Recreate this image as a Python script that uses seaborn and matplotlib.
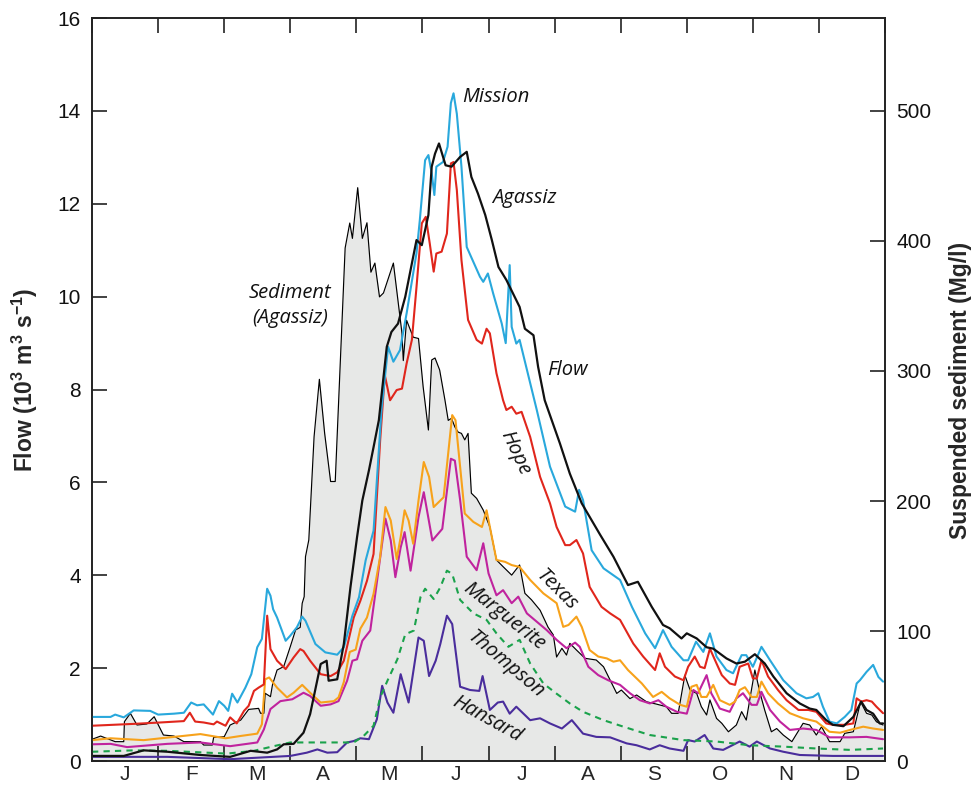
import numpy as np
import pandas as pd
import seaborn as sns
import matplotlib
matplotlib.use("Agg")
import matplotlib.pyplot as plt

# months: J..D, x in month units (0 = 1 Jan, 12 = 31 Dec)
month_labels = ["J", "F", "M", "A", "M", "J", "J", "A", "S", "O", "N", "D"]

# --- flow, 10^3 m3/s ---
mission_m = [0, 0.28, 0.35, 0.48, 0.63, 0.88, 1.0, 1.24, 1.39, 1.50, 1.59, 1.69, 1.83, 1.92, 2.0, 2.06, 2.12, 2.2,
             2.32, 2.41, 2.50, 2.57, 2.65, 2.70, 2.74, 2.80, 2.93, 3.0, 3.10, 3.18, 3.23, 3.38, 3.53, 3.71, 3.81,
             3.94, 4.04, 4.14, 4.26, 4.38, 4.48, 4.56, 4.66, 4.76, 4.91, 4.96, 5.04, 5.09, 5.14, 5.18, 5.21, 5.31,
             5.38, 5.43, 5.47, 5.52, 5.59, 5.67, 5.77, 5.87, 5.92, 5.99, 6.07, 6.20, 6.26, 6.32, 6.35, 6.42, 6.47,
             6.63, 6.73, 6.93, 7.16, 7.31, 7.37, 7.43, 7.56, 7.74, 7.99, 8.17, 8.37, 8.52, 8.64, 8.77, 8.95, 9.02,
             9.14, 9.25, 9.35, 9.45, 9.60, 9.70, 9.83, 9.90, 10.0, 10.13, 10.26, 10.46, 10.66, 10.81, 10.91, 10.99,
             11.06, 11.16, 11.27, 11.39, 11.49, 11.57, 11.62, 11.72, 11.82, 11.90, 11.97]
mission_q = [0.95, 0.95, 1.0, 0.94, 1.09, 1.08, 1.0, 1.02, 1.04, 1.26, 1.2, 1.22, 1.0, 1.29, 1.19, 1.08, 1.45, 1.26,
             1.58, 1.87, 2.45, 2.63, 3.71, 3.56, 3.27, 3.09, 2.59, 2.70, 2.88, 3.11, 3.02, 2.52, 2.34, 2.29, 2.45,
             3.13, 3.53, 4.32, 4.96, 7.56, 8.92, 8.60, 8.85, 9.64, 10.94, 11.65, 12.94, 13.05, 12.66, 12.19, 12.8,
             12.9, 13.23, 14.17, 14.38, 13.94, 12.8, 11.07, 10.75, 10.43, 10.32, 10.5, 10.07, 9.42, 9.0, 10.68,
             9.35, 8.99, 9.07, 8.14, 7.56, 6.34, 5.48, 5.37, 5.84, 5.62, 4.54, 4.15, 3.90, 3.32, 2.75, 2.43, 2.82,
             2.46, 2.17, 2.17, 2.57, 2.35, 2.75, 2.25, 1.96, 1.89, 2.28, 2.28, 2.03, 2.46, 2.17, 1.74, 1.46, 1.35,
             1.38, 1.46, 1.17, 0.85, 0.81, 0.95, 1.10, 1.67, 1.74, 1.92, 2.07, 1.81, 1.71]

agassiz_m = [0, 0.48, 0.78, 1.14, 1.64, 2.09, 2.40, 2.65, 2.80, 2.90, 3.05, 3.20, 3.30, 3.46, 3.55, 3.58, 3.71,
             3.81, 3.91, 4.01, 4.09, 4.19, 4.26, 4.34, 4.46, 4.53, 4.63, 4.74, 4.91, 4.99, 5.09, 5.14, 5.19, 5.25,
             5.35, 5.44, 5.57, 5.67, 5.74, 5.84, 5.95, 6.05, 6.15, 6.27, 6.37, 6.47, 6.55, 6.68, 6.75, 6.85, 7.08,
             7.23, 7.41, 7.69, 7.89, 8.11, 8.26, 8.47, 8.64, 8.74, 8.92, 9.0, 9.15, 9.30, 9.40, 9.60, 9.75, 9.88,
             10.03, 10.18, 10.31, 10.51, 10.71, 10.86, 10.96, 11.11, 11.21, 11.37, 11.52, 11.64, 11.72, 11.82,
             11.92, 11.97]
agassiz_q = [0.11, 0.11, 0.23, 0.2, 0.13, 0.09, 0.22, 0.18, 0.25, 0.36, 0.37, 0.61, 1.01, 2.09, 2.16, 1.73, 1.76,
             2.52, 3.74, 4.82, 5.61, 6.26, 6.76, 7.34, 8.92, 9.24, 9.42, 10.0, 11.22, 11.11, 11.76, 12.8, 13.08,
             13.30, 12.83, 12.8, 13.01, 13.12, 12.58, 12.22, 11.76, 11.22, 10.64, 10.36, 10.07, 9.78, 9.31, 9.17,
             8.49, 7.77, 6.84, 6.19, 5.55, 4.87, 4.40, 3.79, 3.86, 3.32, 2.93, 2.86, 2.64, 2.75, 2.64, 2.45, 2.42,
             2.21, 2.10, 2.14, 2.30, 2.10, 1.82, 1.46, 1.24, 1.13, 1.10, 0.88, 0.78, 0.75, 0.95, 1.28, 1.10, 1.02,
             0.81, 0.81]

hope_m = [0, 0.63, 1.03, 1.39, 1.48, 1.56, 1.69, 1.84, 1.89, 2.02, 2.09, 2.19, 2.30, 2.37, 2.45, 2.52, 2.60, 2.65,
          2.70, 2.80, 2.93, 3.05, 3.15, 3.20, 3.30, 3.46, 3.61, 3.71, 3.81, 3.96, 4.06, 4.16, 4.26, 4.36, 4.43,
          4.51, 4.61, 4.69, 4.76, 4.84, 4.91, 4.99, 5.05, 5.11, 5.17, 5.21, 5.29, 5.37, 5.43, 5.47, 5.52, 5.59,
          5.69, 5.82, 5.90, 5.97, 6.02, 6.12, 6.22, 6.27, 6.35, 6.42, 6.50, 6.63, 6.78, 6.93, 7.03, 7.16, 7.23,
          7.33, 7.43, 7.53, 7.71, 7.84, 7.99, 8.19, 8.34, 8.52, 8.59, 8.67, 8.82, 8.95, 9.02, 9.12, 9.20, 9.27,
          9.35, 9.45, 9.53, 9.65, 9.73, 9.80, 9.93, 10.0, 10.06, 10.13, 10.23, 10.38, 10.51, 10.69, 10.84, 10.96,
          11.11, 11.21, 11.39, 11.52, 11.57, 11.64, 11.72, 11.80, 11.87, 11.97]
hope_q = [0.76, 0.80, 0.83, 0.86, 1.04, 0.85, 0.83, 0.79, 0.85, 0.76, 0.94, 0.81, 1.08, 1.19, 1.51, 1.58, 1.65, 3.13,
          2.41, 2.16, 1.98, 2.23, 2.41, 2.37, 2.16, 1.87, 1.83, 1.91, 2.16, 3.09, 3.45, 3.88, 4.46, 6.91, 8.31,
          7.77, 7.99, 8.02, 8.56, 9.07, 10.21, 11.58, 11.72, 11.15, 10.54, 10.93, 10.97, 11.36, 12.87, 12.9, 12.3,
          10.79, 9.5, 9.07, 8.99, 9.31, 9.21, 8.35, 7.77, 7.56, 7.63, 7.48, 7.52, 6.98, 6.12, 5.55, 5.04, 4.65,
          4.65, 4.76, 4.47, 3.75, 3.32, 3.18, 3.04, 2.53, 2.25, 1.96, 2.32, 2.03, 1.82, 1.74, 2.03, 2.25, 2.03,
          2.00, 2.42, 2.10, 1.85, 1.67, 1.64, 2.03, 2.10, 1.78, 1.78, 2.17, 1.82, 1.53, 1.31, 1.10, 1.10, 1.06,
          0.81, 0.78, 0.78, 0.81, 1.35, 1.28, 1.31, 1.28, 1.17, 1.03]

texas_m = [0, 0.28, 0.78, 1.64, 2.02, 2.25, 2.50, 2.57, 2.62, 2.68, 2.80, 2.95, 3.05, 3.18, 3.30, 3.46, 3.66, 3.73,
           3.81, 3.90, 3.99, 4.06, 4.16, 4.26, 4.36, 4.44, 4.52, 4.61, 4.67, 4.73, 4.79, 4.86, 4.94, 5.02, 5.10,
           5.17, 5.32, 5.45, 5.50, 5.64, 5.77, 5.90, 5.97, 6.02, 6.12, 6.25, 6.35, 6.47, 6.63, 6.83, 7.03, 7.13,
           7.21, 7.33, 7.41, 7.53, 7.66, 7.79, 7.89, 7.99, 8.11, 8.32, 8.49, 8.62, 8.74, 8.90, 9.0, 9.07, 9.15,
           9.22, 9.30, 9.40, 9.50, 9.65, 9.73, 9.80, 9.88, 9.98, 10.06, 10.13, 10.23, 10.38, 10.56, 10.76, 10.96,
           11.16, 11.32, 11.47, 11.67, 11.82, 11.97]
texas_q = [0.45, 0.49, 0.45, 0.58, 0.49, 0.54, 0.59, 0.79, 1.76, 1.80, 1.58, 1.37, 1.47, 1.64, 1.47, 1.26, 1.29,
           1.37, 1.70, 2.35, 2.40, 2.85, 3.09, 3.60, 4.40, 5.47, 5.18, 4.35, 4.82, 5.40, 5.18, 4.68, 5.61, 6.44,
           6.12, 5.47, 5.68, 7.45, 7.34, 5.33, 5.15, 5.04, 5.40, 5.04, 4.33, 4.29, 4.22, 4.18, 3.90, 3.61, 3.40,
           2.89, 2.93, 3.11, 2.89, 2.39, 2.25, 2.21, 2.14, 2.17, 1.96, 1.67, 1.38, 1.49, 1.35, 1.21, 1.17, 1.60,
           1.64, 1.38, 1.38, 1.64, 1.31, 1.21, 1.28, 1.53, 1.59, 1.38, 1.38, 1.71, 1.46, 1.24, 1.03, 0.92, 0.85,
           0.63, 0.61, 0.67, 0.74, 0.70, 0.67]

marguerite_m = [0, 0.28, 0.53, 1.14, 1.64, 2.09, 2.50, 2.60, 2.70, 2.85, 3.03, 3.20, 3.30, 3.46, 3.61, 3.73, 3.86,
                3.94, 4.01, 4.09, 4.21, 4.31, 4.44, 4.52, 4.59, 4.67, 4.73, 4.82, 4.94, 5.02, 5.15, 5.30, 5.43,
                5.49, 5.57, 5.67, 5.82, 5.92, 6.00, 6.12, 6.22, 6.35, 6.45, 6.58, 6.73, 6.88, 7.03, 7.18, 7.31,
                7.38, 7.51, 7.66, 7.81, 7.99, 8.14, 8.29, 8.44, 8.57, 8.69, 8.85, 9.00, 9.10, 9.17, 9.30, 9.37,
                9.50, 9.65, 9.75, 9.85, 9.98, 10.06, 10.13, 10.26, 10.41, 10.56, 10.76, 10.96, 11.16, 11.47,
                11.72, 11.97]
marguerite_q = [0.36, 0.37, 0.30, 0.37, 0.40, 0.32, 0.40, 0.68, 1.12, 1.29, 1.33, 1.47, 1.40, 1.19, 1.22, 1.29,
                1.73, 2.16, 2.19, 2.59, 2.81, 3.85, 5.22, 4.75, 3.96, 4.60, 4.93, 4.10, 5.25, 5.79, 4.75, 5.0,
                6.51, 6.47, 5.62, 4.40, 4.11, 4.69, 4.04, 3.57, 3.68, 3.40, 3.54, 3.18, 3.00, 2.82, 2.61, 2.43,
                2.55, 2.46, 2.03, 1.85, 1.74, 1.64, 1.46, 1.31, 1.24, 1.31, 1.17, 1.06, 1.02, 1.53, 1.46, 1.85,
                1.46, 1.13, 1.06, 1.35, 1.46, 1.21, 1.21, 1.49, 1.10, 0.85, 0.67, 0.70, 0.67, 0.51, 0.51, 0.52,
                0.47]

thompson_m = [0, 0.63, 1.14, 2.04, 2.45, 2.75, 3.0, 3.66, 3.96, 4.11, 4.26, 4.36, 4.47, 4.62, 4.74, 4.87, 4.97,
              5.04, 5.17, 5.27, 5.37, 5.45, 5.57, 5.77, 5.97, 6.12, 6.30, 6.47, 6.63, 6.83, 7.03, 7.23, 7.43,
              7.74, 8.04, 8.44, 8.95, 9.45, 9.95, 10.46, 10.96, 11.47, 11.97]
thompson_q = [0.20, 0.23, 0.22, 0.16, 0.22, 0.32, 0.40, 0.40, 0.40, 0.54, 0.76, 1.37, 1.73, 2.19, 2.73, 2.81,
              3.53, 3.71, 3.49, 3.74, 4.10, 4.03, 3.47, 3.18, 3.04, 2.75, 2.46, 2.61, 2.10, 1.67, 1.45, 1.24,
              1.06, 0.88, 0.74, 0.56, 0.45, 0.42, 0.34, 0.31, 0.27, 0.24, 0.27]

hansard_m = [0, 1.14, 2.09, 3.0, 3.25, 3.41, 3.56, 3.71, 3.86, 3.96, 4.06, 4.19, 4.31, 4.39, 4.47, 4.56, 4.67,
             4.79, 4.94, 5.02, 5.10, 5.20, 5.27, 5.37, 5.45, 5.57, 5.72, 5.86, 5.91, 6.02, 6.14, 6.22, 6.32, 6.42,
             6.63, 6.78, 6.93, 7.11, 7.26, 7.43, 7.63, 7.84, 8.09, 8.24, 8.44, 8.59, 8.74, 8.95, 9.02, 9.12, 9.27,
             9.40, 9.55, 9.80, 9.95, 10.06, 10.26, 10.46, 10.71, 11.21, 11.97]
hansard_q = [0.09, 0.09, 0.04, 0.11, 0.18, 0.25, 0.18, 0.19, 0.40, 0.43, 0.49, 0.47, 0.90, 1.62, 1.26, 1.04, 1.87,
             1.26, 2.66, 2.59, 1.83, 2.16, 2.52, 3.13, 2.95, 1.60, 1.53, 1.51, 1.83, 1.10, 1.26, 1.28, 1.02, 1.17,
             0.88, 0.92, 0.81, 0.70, 0.88, 0.59, 0.52, 0.51, 0.38, 0.34, 0.25, 0.34, 0.27, 0.22, 0.45, 0.42, 0.56,
             0.27, 0.24, 0.42, 0.31, 0.42, 0.27, 0.20, 0.13, 0.11, 0.11]

# --- suspended sediment at Agassiz, Mg/l ---
sed_m = [0, 0.13, 0.35, 0.48, 0.49, 0.58, 0.68, 0.83, 0.94, 1.08, 1.24, 1.39, 1.64, 1.69, 1.82, 1.84, 2.0, 2.09,
         2.25, 2.37, 2.52, 2.55, 2.60, 2.62, 2.70, 2.73, 2.80, 2.90, 3.0, 3.08, 3.15, 3.18, 3.21, 3.23, 3.28, 3.36,
         3.44, 3.52, 3.61, 3.68, 3.83, 3.90, 3.94, 4.02, 4.09, 4.16, 4.22, 4.28, 4.35, 4.41, 4.56, 4.69, 4.71,
         4.76, 4.86, 4.94, 5.01, 5.09, 5.14, 5.19, 5.26, 5.34, 5.39, 5.44, 5.49, 5.54, 5.59, 5.64, 5.69, 5.74,
         5.82, 5.92, 6.02, 6.12, 6.22, 6.35, 6.47, 6.55, 6.65, 6.78, 6.90, 6.98, 7.03, 7.11, 7.18, 7.23, 7.33,
         7.46, 7.63, 7.74, 7.84, 7.94, 8.01, 8.14, 8.24, 8.39, 8.54, 8.69, 8.77, 8.87, 8.97, 9.05, 9.15, 9.22,
         9.30, 9.35, 9.45, 9.53, 9.63, 9.75, 9.83, 9.90, 10.03, 10.11, 10.18, 10.28, 10.36, 10.46, 10.59, 10.76,
         10.86, 10.96, 11.04, 11.16, 11.32, 11.39, 11.52, 11.63, 11.72, 11.80, 11.87, 11.97]
sed_c = [16.7, 19.2, 14.9, 14.9, 30.3, 36.7, 27.7, 28.5, 34.1, 20, 19.2, 14.9, 14.9, 12.3, 12.3, 18.2, 18.7, 27.7,
         31.5, 39.7, 40.5, 36.7, 36.7, 52.1, 49.5, 58.5, 70, 72.6, 88, 100.8, 102.8, 121.3, 126.4, 157.2, 170, 249.5,
         293.6, 252, 215, 215, 394.6, 413.8, 402, 441, 402, 414, 376, 383, 357, 360, 383, 329, 308,
         339, 326, 325, 288, 254.6, 308.5, 310, 300.8, 277.7, 262, 263.6, 257, 253, 252, 247, 252, 206,
         202, 193, 180, 154.6, 149.5, 143, 150.8, 129, 124, 116, 103, 97, 80, 86.7, 81.5, 90.5, 85.4,
         79, 77.7, 72.5, 62.3, 52, 54.6, 48, 50.8, 45.6, 43.8, 41.8, 36.7, 36.7, 66, 54.6, 52, 41.8,
         35.4, 47, 32.8, 29, 22.5, 27.7, 38, 31.5, 70, 52, 39, 22.5, 25, 20, 14.9, 29,
         27.7, 20, 26.4, 14.9, 14.9, 21.3, 22.5, 45.6, 36.7, 35.4, 30.2, 27.7]

sns.set_style("ticks")
plt.rcParams["font.family"] = ["Liberation Sans", "DejaVu Sans"]
plt.rcParams["mathtext.default"] = "regular"

fig = plt.figure(figsize=(9.73, 7.87), dpi=100)
ax = fig.add_axes([0.0946, 0.033, 0.815, 0.944])
ax2 = ax.twinx()
# flow axes drawn over the sediment axes
ax.set_zorder(ax2.get_zorder() + 1)
ax.patch.set_visible(False)

# sediment: grey area + thin black line
sed = pd.DataFrame({"month": sed_m, "sediment": sed_c})
ax2.fill_between(sed["month"], sed["sediment"], 0, color="#e7e8e7", lw=0)
sns.lineplot(data=sed, x="month", y="sediment", ax=ax2, color="black", lw=0.85, sort=False)

series = [
    ("Hansard", hansard_m, hansard_q, "#4a2d9c", "-", 1.5),
    ("Thompson", thompson_m, thompson_q, "#1aa24b", (0, (3, 2.5)), 1.5),
    ("Marguerite", marguerite_m, marguerite_q, "#c0239e", "-", 1.5),
    ("Texas", texas_m, texas_q, "#f7a21b", "-", 1.5),
    ("Hope", hope_m, hope_q, "#e0261c", "-", 1.5),
    ("Mission", mission_m, mission_q, "#29a8dc", "-", 1.5),
    ("Agassiz", agassiz_m, agassiz_q, "#111111", "-", 1.6),
]
for name, m, q, col, ls, lw in series:
    d = pd.DataFrame({"month": m, "flow": q})
    sns.lineplot(data=d, x="month", y="flow", ax=ax, color=col, linestyle=ls, lw=lw, sort=False)

# axes
ax.set_xlim(0, 12)
ax.set_ylim(0, 16)
ax2.set_ylim(0, 16 / 14 * 500)
ax.set_yticks(np.arange(0, 17, 2))
ax2.set_yticks(np.arange(0, 501, 100))
ax.set_xticks(np.arange(0, 13, 1))
ax.set_xticklabels([])
ax.set_xticks(np.arange(0.5, 12, 1), minor=True)
ax.set_xticklabels(month_labels, minor=True)
ax.tick_params(axis="x", which="major", direction="in", length=11, width=1.2, top=True, bottom=True,
               colors="#222222")
ax.tick_params(axis="x", which="minor", length=0, labelsize=15, pad=3)
ax.tick_params(axis="y", direction="in", length=11, width=1.2, labelsize=15, pad=8, colors="#222222",
               labelcolor="#111111")
ax2.tick_params(axis="y", direction="in", length=11, width=1.2, labelsize=15, pad=8, colors="#222222",
                labelcolor="#111111")
ax.set_xlabel("")
ax2.set_xlabel("")
ax.set_ylabel("Flow (10$^{3}$ m$^{3}$ s$^{-1}$)", fontsize=16.5, fontweight="bold")
ax2.set_ylabel("Suspended sediment (Mg/l)", fontsize=16.5, fontweight="bold", rotation=90)
ax.yaxis.set_label_coords(-0.066, 0.513)
ax2.yaxis.set_label_coords(1.081, 0.499)
for a in (ax, ax2):
    for s in a.spines.values():
        s.set_linewidth(1.2)
        s.set_color("#222222")
        s.set_visible(True)

# labels on the curves
lab = dict(fontsize=14.5, style="italic", family=["Open Sans", "DejaVu Sans"], color="#111111",
           ha="center", va="center", rotation_mode="anchor")
ax.text(6.11, 14.3, "Mission", **lab)
ax.text(6.54, 12.12, "Agassiz", **lab)
ax.text(7.19, 8.42, "Flow", **lab)
ax.text(3.0, 10.08, "Sediment", **lab)
ax.text(3.0, 9.54, "(Agassiz)", **lab)
ax.text(6.40, 6.63, "Hope", rotation=-65, **lab)
ax.text(7.02, 3.68, "Texas", rotation=-45, **lab)
ax.text(6.23, 3.11, "Marguerite", rotation=-38, **lab)
ax.text(6.25, 2.07, "Thompson", rotation=-40, **lab)
ax.text(5.98, 0.90, "Hansard", rotation=-29, **lab)

fig.savefig("out.png", dpi=100)
